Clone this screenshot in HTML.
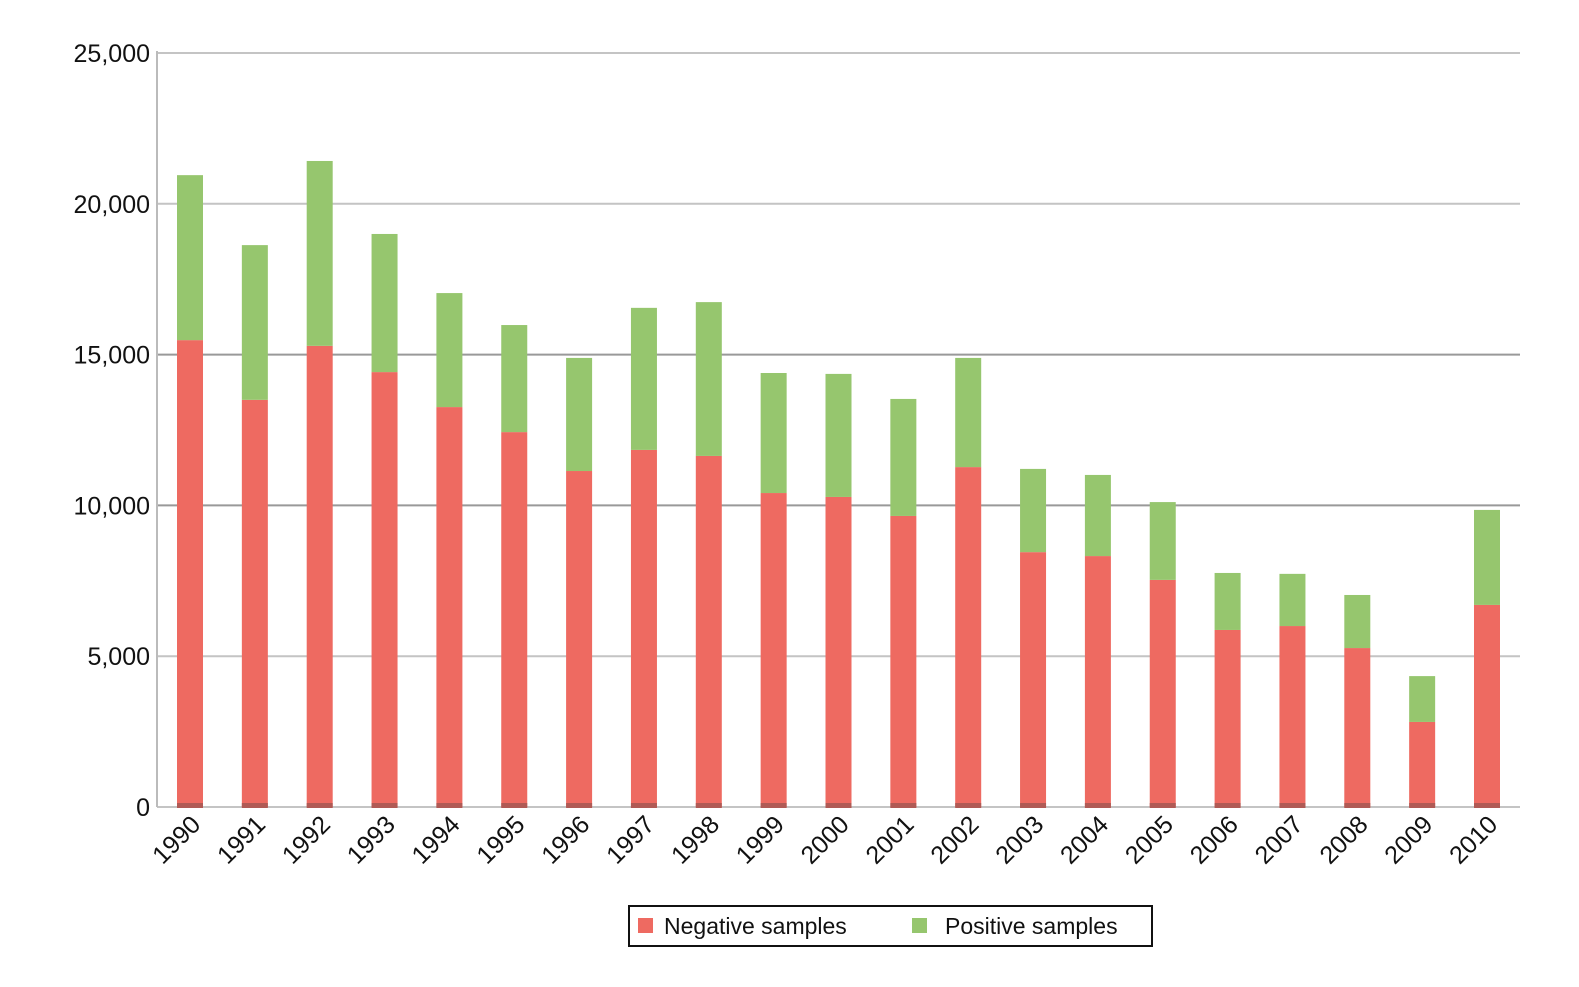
<!DOCTYPE html>
<html><head><meta charset="utf-8"><style>
body{margin:0;background:#fff;}
svg{display:block;font-family:"Liberation Sans",Arial,sans-serif;}
</style></head><body>
<svg id="chart" width="1579" height="987"></svg>
<script>
const years=["1990","1991","1992","1993","1994","1995","1996","1997","1998","1999","2000","2001","2002","2003","2004","2005","2006","2007","2008","2009","2010"];
const negative=[15480,13500,15290,14420,13260,12430,11140,11840,11640,10410,10280,9650,11270,8450,8320,7530,5870,6000,5270,2820,6700];
const positive=[5470,5130,6130,4580,3780,3550,3750,4710,5100,3980,4080,3880,3620,2760,2690,2580,1890,1730,1760,1520,3150];
const yTicks=[0,5000,10000,15000,20000,25000];
const yTickLabels=["0","5,000","10,000","15,000","20,000","25,000"];

const NS="http://www.w3.org/2000/svg";
const svg=document.getElementById('chart');
const x0=157,x1=1520,yBase=807,yTop=53,yMax=25000;
const y=v=>yBase-(v/yMax)*(yBase-yTop);
const step=(1487-190)/(years.length-1);
const xc=i=>190+i*step;
const bw=26;
function mk(tag,attrs,parent){const e=document.createElementNS(NS,tag);for(const k in attrs)e.setAttribute(k,attrs[k]);(parent||svg).appendChild(e);return e;}

yTicks.forEach((t,i)=>{
  const g=mk('line',{x1:x0,x2:x1,y1:y(t),y2:y(t),stroke:(t===10000||t===15000)?'#999':'#c4c4c4','stroke-width':2});
  
  
  const tx=mk('text',{x:150,y:y(t)+9,'text-anchor':'end','font-size':25,fill:'#111'});
  tx.textContent=yTickLabels[i];
  
  
});
const ax=mk('line',{x1:x0,x2:x0,y1:yTop-2,y2:yBase,stroke:'#bbb','stroke-width':2});



years.forEach((yr,i)=>{
  const cx=xc(i);
  const n=mk('rect',{x:cx-bw/2,y:y(negative[i]),width:bw,height:yBase-y(negative[i]),fill:'#ee6a61'});
  
  
  const tot=negative[i]+positive[i];
  const p=mk('rect',{x:cx-bw/2,y:y(tot),width:bw,height:y(negative[i])-y(tot),fill:'#96c66e'});
  
  
  const b=mk('rect',{x:cx-bw/2,y:yBase-4,width:bw,height:5,fill:'#b05a55'});
  
  
  const t=mk('text',{x:cx+12,y:826,'text-anchor':'end','font-size':25,fill:'#111',transform:`rotate(-45 ${cx+12} 826)`});
  t.textContent=yr;
  
  
});

const lg=mk('g',{});


mk('rect',{x:629,y:906,width:523,height:40,fill:'#fff',stroke:'#111','stroke-width':2},lg);
const s1=mk('rect',{x:638,y:918,width:15,height:15,fill:'#ee6a61'},lg);


const l1=mk('text',{x:664,y:934,'font-size':23,fill:'#111'},lg);
l1.textContent='Negative samples';


const s2=mk('rect',{x:912,y:918,width:15,height:15,fill:'#96c66e'},lg);


const l2=mk('text',{x:945,y:934,'font-size':23,fill:'#111'},lg);
l2.textContent='Positive samples';


</script>
</body></html>
